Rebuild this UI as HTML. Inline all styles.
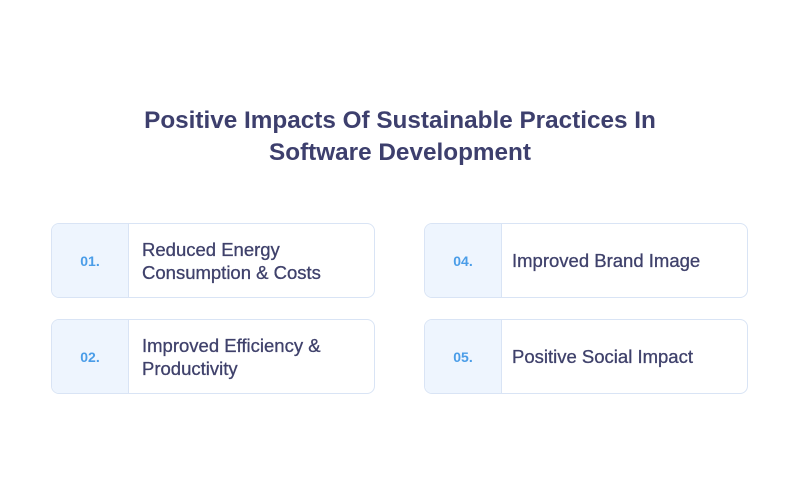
<!DOCTYPE html>
<html>
<head>
<meta charset="utf-8">
<style>
  html,body{margin:0;padding:0;}
  body{width:800px;height:498px;background:#ffffff;position:relative;overflow:hidden;font-family:"Liberation Sans",sans-serif;}
  .title{position:absolute;left:0;top:105px;width:800px;text-align:center;color:#3d3f6d;font-weight:bold;font-size:24.3px;line-height:32px;}
  .card{position:absolute;width:322px;height:73px;border:1px solid #d9e4f5;border-radius:8px;background:#fff;overflow:hidden;}
  .num{position:absolute;left:0;top:0;width:76px;height:73px;background:#eef5fe;border-right:1px solid #d9e4f5;color:#4a9de8;font-weight:bold;font-size:14px;display:flex;align-items:center;justify-content:center;}
  .txt{position:absolute;top:0;height:73px;display:flex;align-items:center;color:#3f416b;font-size:18.5px;line-height:23px;-webkit-text-stroke:0.3px #3f416b;}
</style>
</head>
<body>
  <div class="title">Positive Impacts Of Sustainable Practices In<br>Software Development</div>

  <div class="card" style="left:51px;top:223px;">
    <div class="num">01.</div>
    <div class="txt" style="left:90px;">Reduced Energy<br>Consumption &amp; Costs</div>
  </div>

  <div class="card" style="left:51px;top:319px;">
    <div class="num">02.</div>
    <div class="txt" style="left:90px;">Improved Efficiency &amp;<br>Productivity</div>
  </div>

  <div class="card" style="left:424px;top:223px;">
    <div class="num">04.</div>
    <div class="txt" style="left:87px;">Improved Brand Image</div>
  </div>

  <div class="card" style="left:424px;top:319px;">
    <div class="num">05.</div>
    <div class="txt" style="left:87px;">Positive Social Impact</div>
  </div>
</body>
</html>
